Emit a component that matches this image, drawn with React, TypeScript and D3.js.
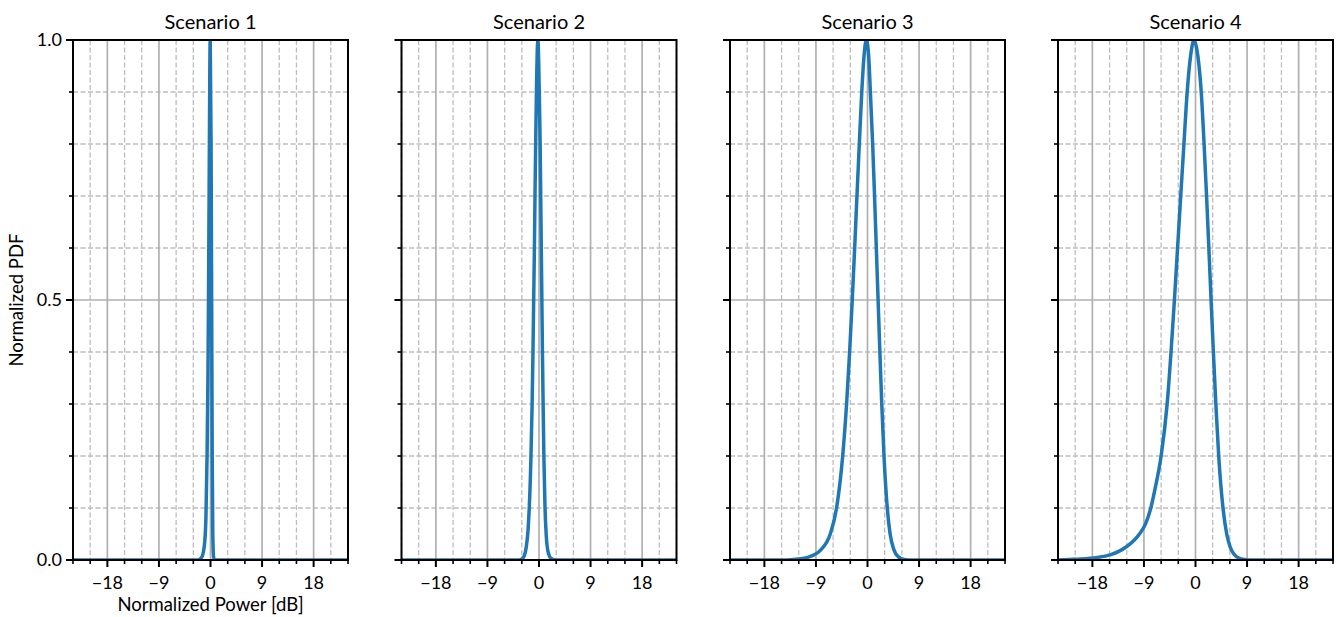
import React from 'react'
import * as d3 from 'd3'

// [dB, normalized pdf]
const scenario1 = [
  [-24, 0], [-2.2, 0], [-1.6, 0.004], [-1.1, 0.025], [-0.8, 0.08], [-0.6, 0.2],
  [-0.45, 0.35], [-0.35, 0.5], [-0.22, 0.75], [-0.05, 1.0], [0.1, 0.8],
  [0.2, 0.5], [0.3, 0.2], [0.4, 0.05], [0.55, 0.005], [0.8, 0], [24, 0],
]
const scenario2 = [
  [-24, 0], [-3.5, 0], [-2.8, 0.004], [-2.3, 0.02], [-1.9, 0.06], [-1.7, 0.1],
  [-1.4, 0.2], [-1.2, 0.3], [-1.05, 0.4], [-0.93, 0.5], [-0.8, 0.6],
  [-0.7, 0.7], [-0.58, 0.8], [-0.45, 0.9], [-0.2, 1.0], [0.05, 0.9],
  [0.2, 0.8], [0.3, 0.7], [0.4, 0.6], [0.5, 0.5], [0.6, 0.4], [0.72, 0.3],
  [0.85, 0.2], [1.05, 0.1], [1.25, 0.05], [1.6, 0.015], [2.2, 0.002], [3, 0], [24, 0],
]
const scenario3 = [
  [-24, 0], [-14, 0], [-12.2, 0.002], [-10.5, 0.005], [-8.1, 0.02], [-6.5, 0.05],
  [-5.4, 0.1], [-4.33, 0.2], [-3.65, 0.3], [-3.12, 0.4], [-2.66, 0.5],
  [-2.24, 0.6], [-1.84, 0.7], [-1.43, 0.8], [-1.0, 0.9], [-0.6, 0.97], [-0.2, 1.0],
  [0.2, 0.97], [0.5, 0.9], [0.9, 0.8], [1.23, 0.7], [1.54, 0.6], [1.85, 0.5],
  [2.16, 0.4], [2.49, 0.3], [2.88, 0.2], [3.45, 0.1], [3.95, 0.05], [4.6, 0.02],
  [5.4, 0.006], [6.4, 0.001], [8, 0], [24, 0],
]
const scenario4 = [
  [-24, 0], [-22, 0.001], [-20, 0.002], [-17.2, 0.005], [-14.9, 0.01],
  [-13.3, 0.017], [-12, 0.026], [-10.8, 0.037], [-9.65, 0.052], [-8.7, 0.07],
  [-7.8, 0.1], [-7.0, 0.14], [-6.0, 0.2], [-4.95, 0.3], [-4.27, 0.4],
  [-3.68, 0.5], [-3.13, 0.6], [-2.58, 0.7], [-2.02, 0.8], [-1.45, 0.9],
  [-0.85, 0.97], [-0.25, 1.0], [0.4, 0.97], [1.0, 0.9], [1.5, 0.8], [1.93, 0.7],
  [2.33, 0.6], [2.72, 0.5], [3.12, 0.4], [3.55, 0.3], [4.05, 0.2], [4.8, 0.1],
  [5.45, 0.05], [6.05, 0.025], [6.8, 0.01], [7.7, 0.003], [8.8, 0.0005], [10, 0], [24, 0],
]

const titles = ['Scenario 1', 'Scenario 2', 'Scenario 3', 'Scenario 4']
const series = [scenario1, scenario2, scenario3, scenario4]

const xMajor = [-18, -9, 0, 9, 18]
const xMinor = d3.range(-24, 24.001, 3)
const yMajor = [0, 0.5, 1.0]
const yMinor = d3.range(0, 1.0001, 0.1).map(v => +v.toFixed(1))

const W = 1338
const H = 617
const top = 40
const bottom = 560
const panelW = 275
const lefts = [73, 401.5, 730, 1058]

const FONT = 'Lato, "DejaVu Sans", sans-serif'
const fmt = (v: number) => (v < 0 ? '\u2212' + Math.abs(v) : String(v))

function Panel({ i }: { i: number }) {
  const x0 = lefts[i]
  const x = d3.scaleLinear().domain([-24, 24]).range([x0, x0 + panelW])
  const y = d3.scaleLinear().domain([0, 1]).range([bottom, top])
  const line = d3.line<number[]>()
    .x(d => x(d[0]))
    .y(d => y(d[1]))
    .curve(d3.curveMonotoneX)
  const isMajorX = (v: number) => xMajor.includes(v)
  const isMajorY = (v: number) => yMajor.some(m => Math.abs(m - v) < 1e-9)

  return (
    <g>
      <defs>
        <clipPath id={`clip${i}`}>
          <rect x={x0} y={top} width={panelW} height={bottom - top} />
        </clipPath>
      </defs>
      {/* minor grid */}
      {xMinor.filter(v => !isMajorX(v)).map(v => (
        <line key={'gx' + v} x1={x(v)} x2={x(v)} y1={top} y2={bottom}
          stroke="#bdbdbd" strokeWidth={1.3} strokeDasharray="5,2.5" />
      ))}
      {yMinor.filter(v => !isMajorY(v)).map(v => (
        <line key={'gy' + v} x1={x0} x2={x0 + panelW} y1={y(v)} y2={y(v)}
          stroke="#bdbdbd" strokeWidth={1.3} strokeDasharray="5,2.5" />
      ))}
      {/* major grid */}
      {xMajor.map(v => (
        <line key={'Gx' + v} x1={x(v)} x2={x(v)} y1={top} y2={bottom}
          stroke="#b0b0b0" strokeWidth={1.7} />
      ))}
      {yMajor.map(v => (
        <line key={'Gy' + v} x1={x0} x2={x0 + panelW} y1={y(v)} y2={y(v)}
          stroke="#b0b0b0" strokeWidth={1.7} />
      ))}
      <path d={line(series[i] as number[][]) || ''} fill="none" stroke="#1f77b4"
        strokeWidth={3.5} clipPath={`url(#clip${i})`} strokeLinejoin="round" />
      {/* spines */}
      <rect x={x0} y={top} width={panelW} height={bottom - top}
        fill="none" stroke="#000" strokeWidth={2} />
      {/* ticks */}
      {xMinor.map(v => (
        <line key={'tx' + v} x1={x(v)} x2={x(v)} y1={bottom} y2={bottom + (isMajorX(v) ? 7 : 4)}
          stroke="#000" strokeWidth={isMajorX(v) ? 2 : 1.6} />
      ))}
      {yMinor.map(v => (
        <line key={'ty' + v} x1={x0} x2={x0 - (isMajorY(v) ? 7 : 4)} y1={y(v)} y2={y(v)}
          stroke="#000" strokeWidth={isMajorY(v) ? 2 : 1.6} />
      ))}
      {xMajor.map(v => (
        <text key={'lx' + v} x={x(v)} y={bottom + 29} textAnchor="middle"
          fontFamily={FONT} fontSize={18} fill="#000">{fmt(v)}</text>
      ))}
      {i === 0 && yMajor.map(v => (
        <text key={'ly' + v} x={x0 - 11} y={y(v)} dy="0.35em" textAnchor="end"
          fontFamily={FONT} fontSize={18} fill="#000">{v.toFixed(1)}</text>
      ))}
      <text x={x0 + panelW / 2} y={top - 11} textAnchor="middle"
        fontFamily={FONT} fontSize={20} fill="#000">{titles[i]}</text>
      {i === 0 && (
        <text x={x0 + panelW / 2} y={611} textAnchor="middle"
          fontFamily={FONT} fontSize={18.5} fill="#000">Normalized Power [dB]</text>
      )}
    </g>
  )
}

export default function App() {
  return (
    <svg width={W} height={H} style={{ position: 'absolute', left: 0, top: 0, background: '#fff' }}>
      <rect width={W} height={H} fill="#fff" />
      {titles.map((_, i) => <Panel key={i} i={i} />)}
      <text transform={`translate(23,${(top + bottom) / 2}) rotate(-90)`} textAnchor="middle"
        fontFamily={FONT} fontSize={18.5} fill="#000">Normalized PDF</text>
    </svg>
  )
}
